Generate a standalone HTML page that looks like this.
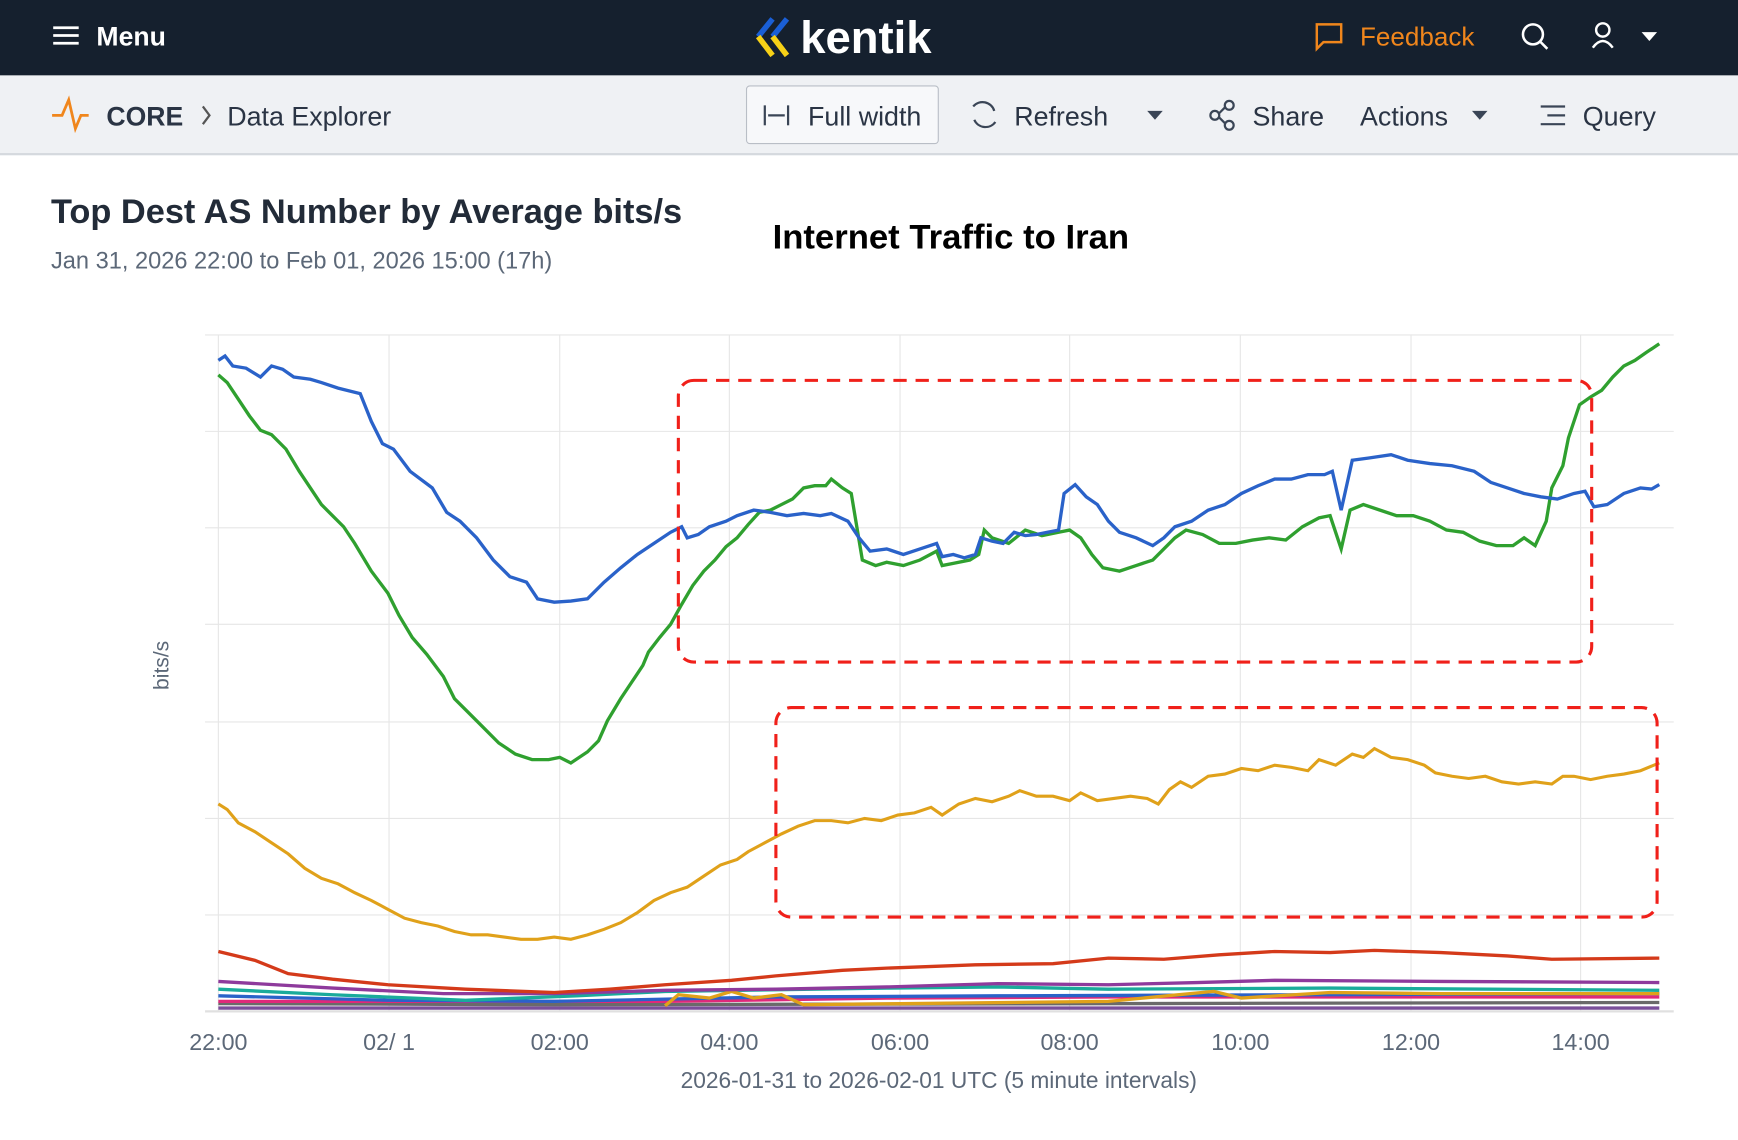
<!DOCTYPE html>
<html><head><meta charset="utf-8"><style>
html,body{margin:0;padding:0;width:1738px;height:1140px;overflow:hidden;background:#fff;font-family:"Liberation Sans",sans-serif}
#w{width:1568px;height:1028px;transform:scale(1.10842,1.10895);transform-origin:0 0;position:relative}
.hd{position:absolute;left:0;top:0;width:1568px;height:68px;background:#15202e}
.sb{position:absolute;left:0;top:68px;width:1568px;height:70px;background:#eff1f4;border-bottom:2px solid #d5d9de}
</style></head><body><div id="w">
<div class="hd"></div>
<div class="sb"></div>
<svg width="1568" height="1028" style="position:absolute;left:0;top:0">
<g stroke="#fff" stroke-width="2.5"><line x1="48" y1="25" x2="71" y2="25"/><line x1="48" y1="32" x2="71" y2="32"/><line x1="48" y1="39" x2="71" y2="39"/></g>
<text x="87" y="41" fill="#fff" font-size="24" font-weight="bold">Menu</text>
<g stroke-width="5" fill="none"><path d="M697 17 L684 33" stroke="#1a5fd6"/><path d="M684 33 L697 50" stroke="#f7d117"/><path d="M710 17 L697 33" stroke="#1a5fd6"/><path d="M697 33 L710 50" stroke="#f7d117"/></g>
<text x="722" y="48" fill="#fff" font-size="41" font-weight="bold">kentik</text>
<path d="M1188 22 h22 v16 h-16 l-6 6 z" fill="none" stroke="#f0861c" stroke-width="2.2"/>
<text x="1227" y="41" fill="#f0861c" font-size="23.5">Feedback</text>
<circle cx="1383" cy="31" r="9" fill="none" stroke="#fff" stroke-width="2.3"/><line x1="1390" y1="38" x2="1396" y2="44" stroke="#fff" stroke-width="2.3"/>
<circle cx="1446" cy="27" r="6" fill="none" stroke="#fff" stroke-width="2.2"/><path d="M1437 43 q9 -12 18 0" fill="none" stroke="#fff" stroke-width="2.2"/>
<path d="M1481 29 h14 l-7 8z" fill="#fff"/>
<path d="M47 104 h9 l6 -14 l6 26 l5 -12 h7" fill="none" stroke="#f0861c" stroke-width="2.5"/>
<text x="96" y="113" fill="#2a3444" font-size="24" font-weight="bold">CORE</text>
<path d="M183 96 l6 8 l-6 8" fill="none" stroke="#555" stroke-width="2"/>
<text x="205" y="113" fill="#2a3444" font-size="24.2">Data Explorer</text>
<rect x="673.5" y="77.5" width="173" height="52" rx="3" fill="#f7f8fa" stroke="#b9bec6"/>
<g stroke="#3a4556" stroke-width="2" fill="none"><line x1="690" y1="95" x2="690" y2="113"/><line x1="711" y1="95" x2="711" y2="113"/><line x1="693" y1="104" x2="708" y2="104"/></g>
<text x="729" y="113" fill="#2a3444" font-size="24.2">Full width</text>
<path d="M878 96 a11 11 0 0 1 19 4 M898 110 a11 11 0 0 1 -19 -2" fill="none" stroke="#3a4556" stroke-width="2"/>
<text x="915" y="113" fill="#2a3444" font-size="24.2">Refresh</text>
<path d="M1035 100 h14 l-7 8z" fill="#3a4556"/>
<g fill="none" stroke="#3a4556" stroke-width="2"><circle cx="1096" cy="104" r="4"/><circle cx="1109" cy="95" r="4"/><circle cx="1109" cy="113" r="4"/><line x1="1100" y1="102" x2="1105" y2="97"/><line x1="1100" y1="106" x2="1105" y2="111"/></g>
<text x="1130" y="113" fill="#2a3444" font-size="24.2">Share</text>
<text x="1227" y="113" fill="#2a3444" font-size="24.2">Actions</text>
<path d="M1328 100 h14 l-7 8z" fill="#3a4556"/>
<g stroke="#3a4556" stroke-width="2"><line x1="1390" y1="96" x2="1412" y2="96"/><line x1="1396" y1="104" x2="1412" y2="104"/><line x1="1390" y1="112" x2="1412" y2="112"/></g>
<text x="1428" y="113" fill="#2a3444" font-size="24.2">Query</text>
<text x="46" y="201" fill="#222b38" font-size="31" font-weight="bold">Top Dest AS Number by Average bits/s</text>
<text x="46" y="242" fill="#5c6878" font-size="21.3">Jan 31, 2026 22:00 to Feb 01, 2026 15:00 (17h)</text>
<text x="697" y="224" fill="#000" font-size="31.3" font-weight="bold">Internet Traffic to Iran</text>
<g stroke="#e6e6e6" stroke-width="1">
<line x1="185" y1="302" x2="1510" y2="302"/><line x1="185" y1="389" x2="1510" y2="389"/><line x1="185" y1="476" x2="1510" y2="476"/><line x1="185" y1="563" x2="1510" y2="563"/><line x1="185" y1="651" x2="1510" y2="651"/><line x1="185" y1="738" x2="1510" y2="738"/><line x1="185" y1="825" x2="1510" y2="825"/>
<line x1="197" y1="302" x2="197" y2="912"/><line x1="351" y1="302" x2="351" y2="912"/><line x1="505" y1="302" x2="505" y2="912"/><line x1="658" y1="302" x2="658" y2="912"/><line x1="812" y1="302" x2="812" y2="912"/><line x1="965" y1="302" x2="965" y2="912"/><line x1="1119" y1="302" x2="1119" y2="912"/><line x1="1273" y1="302" x2="1273" y2="912"/><line x1="1426" y1="302" x2="1426" y2="912"/>
</g>
<line x1="185" y1="912" x2="1510" y2="912" stroke="#e0e0e0" stroke-width="2"/>
<text x="152" y="600" fill="#5c6878" font-size="19" transform="rotate(-90 152 600)" text-anchor="middle">bits/s</text>
<g fill="#5c6878" font-size="21" text-anchor="middle">
<text x="197" y="947">22:00</text><text x="351" y="947">02/ 1</text><text x="505" y="947">02:00</text><text x="658" y="947">04:00</text><text x="812" y="947">06:00</text><text x="965" y="947">08:00</text><text x="1119" y="947">10:00</text><text x="1273" y="947">12:00</text><text x="1426" y="947">14:00</text>
<text x="847" y="981" font-size="20.5">2026-01-31 to 2026-02-01 UTC (5 minute intervals)</text></g>
<g fill="none" stroke-width="3">
<polyline stroke="#7a4f9a" points="197,909 1497,909"/>
<polyline stroke="#6a6a6a" points="197,905 500,906 1497,904"/>
<polyline stroke="#e0297a" points="197,903 600,903 800,900 1000,899 1497,899"/>
<polyline stroke="#2a62c9" points="197,898 350,902 500,903 700,899 900,898 1497,896"/>
<polyline stroke="#1aab9b" points="197,892 300,897 420,902 520,898 600,894 800,891 900,890 1000,892 1200,891 1497,893"/>
<polyline stroke="#e0a11a" points="600,907 612,897 640,900 660,894 680,900 705,897 725,906 1000,903 1095,894 1120,900 1200,895 1300,896 1497,896"/>
<polyline stroke="#8e3a9c" points="197,885 300,891 400,896 500,896 600,893 700,892 800,890 900,887 1000,888 1080,886 1150,884 1300,885 1497,886"/>
<polyline stroke="#d43a1a" points="197,858 230,866 260,878 300,883 350,888 420,892 500,895 550,892 600,888 660,884 700,880 760,875 800,873 880,870 950,869 1000,864 1050,865 1100,861 1150,858 1200,859 1240,857 1300,859 1360,862 1400,865 1497,864"/>
</g>
<polyline fill="none" stroke="#e0a11a" stroke-width="2.8" points="197,725 205,730 215,742 230,750 245,760 260,770 275,783 290,792 305,797 320,805 335,812 350,820 365,828 380,832 395,835 410,840 425,843 440,843 455,845 470,847 485,847 500,845 515,847 530,843 545,838 560,832 575,823 590,812 605,805 620,800 635,790 650,780 665,775 675,768 690,760 705,752 720,745 735,740 750,740 765,742 780,738 795,740 810,735 825,733 840,728 850,735 865,725 880,720 895,723 910,718 920,713 935,718 950,718 965,722 975,715 990,722 1005,720 1020,718 1035,720 1045,725 1055,712 1065,705 1075,710 1090,700 1105,698 1120,693 1135,695 1150,690 1165,692 1180,695 1190,685 1205,690 1220,680 1230,683 1240,675 1255,683 1270,685 1285,690 1295,697 1310,700 1325,702 1340,700 1355,705 1370,707 1385,705 1400,707 1410,700 1420,700 1435,703 1450,700 1465,698 1480,695 1497,688"/>
<polyline fill="none" stroke="#2fa02f" stroke-width="3" points="197,338 205,345 215,360 225,375 235,388 245,392 258,405 270,425 280,440 290,455 300,465 310,475 320,490 335,515 350,535 360,555 372,575 385,590 400,610 410,630 420,640 435,655 450,670 465,680 480,685 495,685 505,683 515,688 530,678 540,668 548,650 560,630 570,615 580,600 585,588 595,575 605,563 615,545 625,528 635,515 645,505 655,493 665,485 675,473 685,462 695,460 705,455 715,450 725,440 735,438 745,438 750,432 760,440 768,445 778,505 790,510 800,507 815,510 830,505 845,497 850,510 860,508 875,505 883,500 888,478 895,485 910,490 925,478 940,483 955,480 965,478 975,485 985,500 995,512 1010,515 1025,510 1040,505 1050,495 1060,485 1070,478 1085,482 1100,490 1115,490 1130,487 1145,485 1160,487 1175,475 1190,467 1200,465 1210,495 1218,460 1230,455 1245,460 1260,465 1275,465 1290,470 1305,478 1320,480 1335,488 1350,492 1365,492 1375,485 1385,492 1395,470 1400,440 1410,420 1415,395 1425,365 1435,358 1445,352 1455,340 1465,330 1475,325 1485,318 1497,310"/>
<polyline fill="none" stroke="#2a62c9" stroke-width="3" points="197,325 203,321 210,330 222,332 235,340 245,330 255,333 265,340 280,342 290,345 305,350 325,355 335,380 345,400 355,405 370,425 390,440 403,462 415,470 430,485 445,505 460,520 475,525 485,540 500,543 515,542 530,540 545,525 560,512 575,500 590,490 605,480 615,475 620,485 630,482 640,475 655,470 665,465 680,460 695,462 710,465 725,463 740,465 750,463 765,470 775,485 785,497 800,495 815,500 830,495 845,490 850,502 860,500 870,503 880,500 885,485 895,488 905,490 915,480 925,483 935,482 945,480 955,478 960,445 970,437 980,448 990,455 1000,470 1010,480 1025,485 1040,492 1050,485 1060,475 1075,470 1090,460 1105,455 1120,445 1135,438 1150,432 1165,432 1180,428 1195,428 1202,425 1210,460 1220,415 1235,413 1255,410 1270,415 1290,418 1310,420 1330,425 1345,435 1360,440 1375,445 1390,448 1405,450 1420,445 1430,443 1438,457 1450,455 1465,445 1480,440 1490,441 1497,437"/>
<rect x="612" y="343" width="824" height="254" rx="14" fill="none" stroke="#f0201a" stroke-width="2.8" stroke-dasharray="12,8"/>
<rect x="700" y="638" width="795" height="189" rx="14" fill="none" stroke="#f0201a" stroke-width="2.8" stroke-dasharray="12,8"/>
</svg>
</div></body></html>
